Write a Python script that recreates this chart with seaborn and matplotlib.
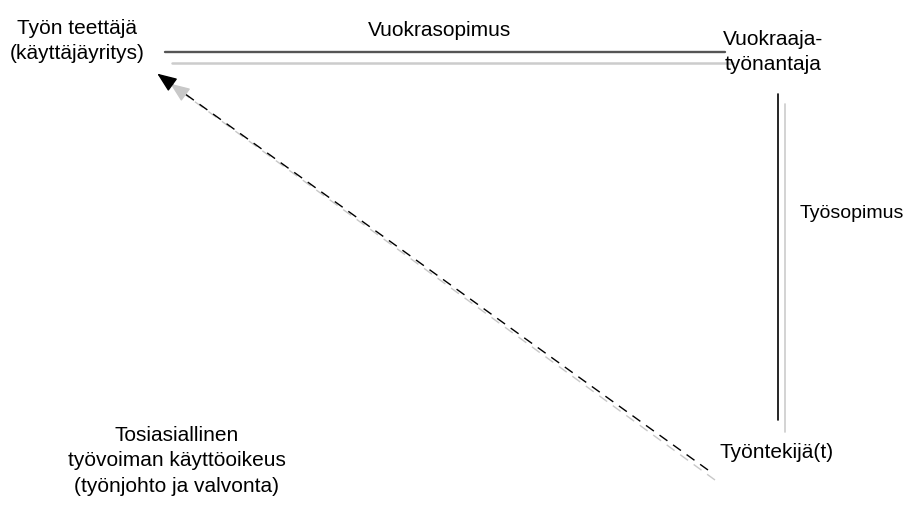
import numpy as np
import pandas as pd
import matplotlib
matplotlib.use("Agg")
import matplotlib.pyplot as plt
import seaborn as sns

sns.set_theme(style="white")
plt.rcParams['font.family'] = ['Liberation Sans Narrow', 'Liberation Sans', 'DejaVu Sans']

# diagram nodes (pixel space of the picture)
node_labels = ["Työn teettäjä\n(käyttäjäyritys)", "Vuokraaja-\ntyönantaja", "Työntekijä(t)"]
node_x = [77, 773, 777]
node_y = [41, 52, 452]

# relation labels
rel_labels = ["Vuokrasopimus", "Työsopimus",
              "Tosiasiallinen\ntyövoiman käyttöoikeus\n(työnjohto ja valvonta)"]
rel_x = [440, 852, 177]
rel_y = [30, 214, 461]
rel_size = [15, 14, 15]

# connector segments: x0, y0, x1, y1
seg_name = ["lease", "lease_shadow", "contract", "contract_shadow"]
seg_x0 = [165, 172, 778, 785]
seg_y0 = [52, 63, 94, 104]
seg_x1 = [725, 733, 778, 785]
seg_y1 = [52, 63, 420, 432]
seg_color = ["#555555", "#cccccc", "#000000", "#cccccc"]
seg_width = [1.7, 1.8, 1.2, 1.2]

# dashed arrows (tail -> head)
arr_x0 = [708, 715]
arr_y0 = [470, 480]
arr_x1 = [155, 168]
arr_y1 = [72, 82]
arr_color = ["#000000", "#c8c8c8"]

fig = plt.figure(figsize=(9.09, 5.05), dpi=100)
ax = fig.add_axes([0, 0, 1, 1])
ax.set_xlim(0, 909)
ax.set_ylim(505, 0)
ax.axis("off")

for i in range(len(seg_name)):
    df = pd.DataFrame({"x": [seg_x0[i], seg_x1[i]], "y": [seg_y0[i], seg_y1[i]]})
    sns.lineplot(data=df, x="x", y="y", ax=ax, color=seg_color[i],
                 linewidth=seg_width[i], sort=False, estimator=None)

# shadow arrow first, then the black one on top
for i in [1, 0]:
    df = pd.DataFrame({"x": [arr_x0[i], arr_x1[i] + 8], "y": [arr_y0[i], arr_y1[i] + 6]})
    sns.lineplot(data=df, x="x", y="y", ax=ax, color=arr_color[i],
                 linewidth=1.0, sort=False, estimator=None, linestyle=(0, (7, 5)))
    ax.annotate("", xy=(arr_x1[i], arr_y1[i]), xytext=(arr_x1[i] + 12, arr_y1[i] + 8.7),
                arrowprops=dict(arrowstyle="-|>,head_length=1.0,head_width=0.4",
                                color=arr_color[i], lw=1.0))

for lab, x, y in zip(node_labels, node_x, node_y):
    ax.text(x, y, lab, ha="center", va="center", fontsize=15,
            linespacing=1.45, color="black")
for lab, x, y, s in zip(rel_labels, rel_x, rel_y, rel_size):
    ax.text(x, y, lab, ha="center", va="center", fontsize=s,
            linespacing=1.45, color="black")

ax.set_xlabel("")
ax.set_ylabel("")
fig.savefig("out.png", dpi=100, facecolor="white")
